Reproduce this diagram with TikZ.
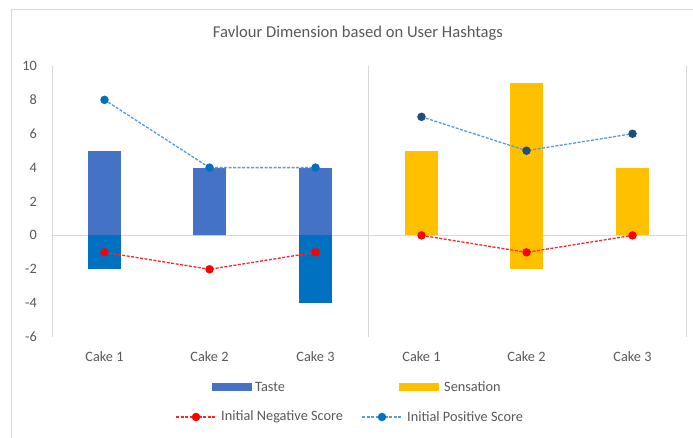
\documentclass[tikz,border=0pt]{standalone}
\usepackage{fontspec}
\setmainfont{Carlito}
\definecolor{txt}{HTML}{595959}
\definecolor{tasteup}{HTML}{4472C4}
\definecolor{tastedn}{HTML}{0070C0}
\definecolor{sens}{HTML}{FFC000}
\definecolor{posline}{HTML}{5B9BD5}
\definecolor{posdotA}{HTML}{0070C0}
\definecolor{posdotB}{HTML}{1F4E79}
\definecolor{negline}{HTML}{FF0000}
\definecolor{gridc}{HTML}{D9D9D9}
\tikzset{
  lbl/.style={text=txt, font=\fontsize{14.3}{16}\selectfont, inner sep=0pt},
  ylbl/.style={lbl, anchor=east},
  axisline/.style={draw=gridc, line width=1pt},
  negdash/.style={draw=negline!85, line width=1.3pt, dash pattern=on 3pt off 1.5pt},
  posdash/.style={draw=posline, line width=1.3pt, dash pattern=on 3pt off 1.5pt},
  negdot/.style={circle, fill=negline, inner sep=0pt, minimum size=8.5pt},
  posdotA/.style={circle, fill=posdotA, inner sep=0pt, minimum size=8.5pt},
  posdotB/.style={circle, fill=posdotB, inner sep=0pt, minimum size=8.5pt},
}
\begin{document}
\begin{tikzpicture}[x=1pt,y=-1pt]
\useasboundingbox (0,0) rectangle (693,438);
\fill[white] (0,0) rectangle (693,438);
% chart frame
\draw[gridc, line width=0.8pt] (11,440) -- (11,9) -- (695,9);
% title
\node[lbl, font=\fontsize{16.6}{19}\selectfont] (title) at (358,33) {Favlour Dimension based on User Hashtags};
% y axis labels
\foreach \v/\n in {10/a,8/b,6/c,4/d,2/e,0/f,-2/g,-4/h,-6/i}
  \node[ylbl] (y\n) at (37,{235.4-16.94*\v}) {\v};
% category separators and zero line
\draw[axisline] (52,66) -- (52,337);
\draw[axisline] (368,66) -- (368,337);
\draw[axisline] (686,66) -- (686,337);
\draw[axisline] (52,235.4) -- (686,235.4);
% data area: y in data units
\begin{scope}[shift={(0,235.4)}, y=16.94pt]
  % Taste bars
  \foreach \x/\p/\m in {104.5/5/-2, 209.5/4/0, 315.5/4/-4}{
    \fill[tasteup] (\x-16.5,0) rectangle (\x+16.5,\p);
    \fill[tastedn] (\x-16.5,0) rectangle (\x+16.5,\m);
  }
  % Sensation bars
  \foreach \x/\p/\m in {421.5/5/0, 526.5/9/-2, 632.5/4/0}{
    \fill[sens] (\x-16.5,\m) rectangle (\x+16.5,\p);
  }
  % Initial positive score
  \coordinate (p1) at (104.5,8);
  \coordinate (p2) at (209.5,4);
  \coordinate (p3) at (315.5,4);
  \coordinate (p4) at (421.5,7);
  \coordinate (p5) at (526.5,5);
  \coordinate (p6) at (632.5,6);
  % Initial negative score
  \coordinate (n1) at (104.5,-1);
  \coordinate (n2) at (209.5,-2);
  \coordinate (n3) at (315.5,-1);
  \coordinate (n4) at (421.5,0);
  \coordinate (n5) at (526.5,-1);
  \coordinate (n6) at (632.5,0);
  \draw[posdash] (p1) -- (p2) -- (p3);
  \draw[posdash] (p4) -- (p5) -- (p6);
  \draw[negdash] (n1) -- (n2) -- (n3);
  \draw[negdash] (n4) -- (n5) -- (n6);
  \foreach \k in {1,2,3}{
    \node[posdotA] (mp\k) at (p\k) {};
    \node[negdot] (mn\k) at (n\k) {};
  }
  \foreach \k in {4,5,6}{
    \node[posdotB] (mp\k) at (p\k) {};
    \node[negdot] (mn\k) at (n\k) {};
  }
\end{scope}
% category labels
\foreach \x/\t/\n in {104.5/Cake 1/c1, 209.5/Cake 2/c2, 315.5/Cake 3/c3, 421.5/Cake 1/c4, 526.5/Cake 2/c5, 632.5/Cake 3/c6}
  \node[lbl] (\n) at (\x,357) {\t};
% legend
\fill[tasteup] (212,383) rectangle (252,391);
\node[lbl, anchor=west] (lgtaste) at (255,387) {Taste};
\fill[sens] (399,383) rectangle (439,391);
\node[lbl, anchor=west] (lgsens) at (444,387) {Sensation};
\coordinate (ln1) at (176,417);
\coordinate (ln2) at (216,417);
\draw[negdash] (ln1) -- (ln2);
\node[negdot] (lnd) at (196,417) {};
\node[lbl, anchor=west] (lgneg) at (221,417) {Initial Negative Score};
\coordinate (lp1) at (362,417);
\coordinate (lp2) at (401,417);
\draw[posdash] (lp1) -- (lp2);
\node[posdotA] (lpd) at (382,417) {};
\node[lbl, anchor=west] (lgpos) at (407,417) {Initial Positive Score};
\end{tikzpicture}
\end{document}
